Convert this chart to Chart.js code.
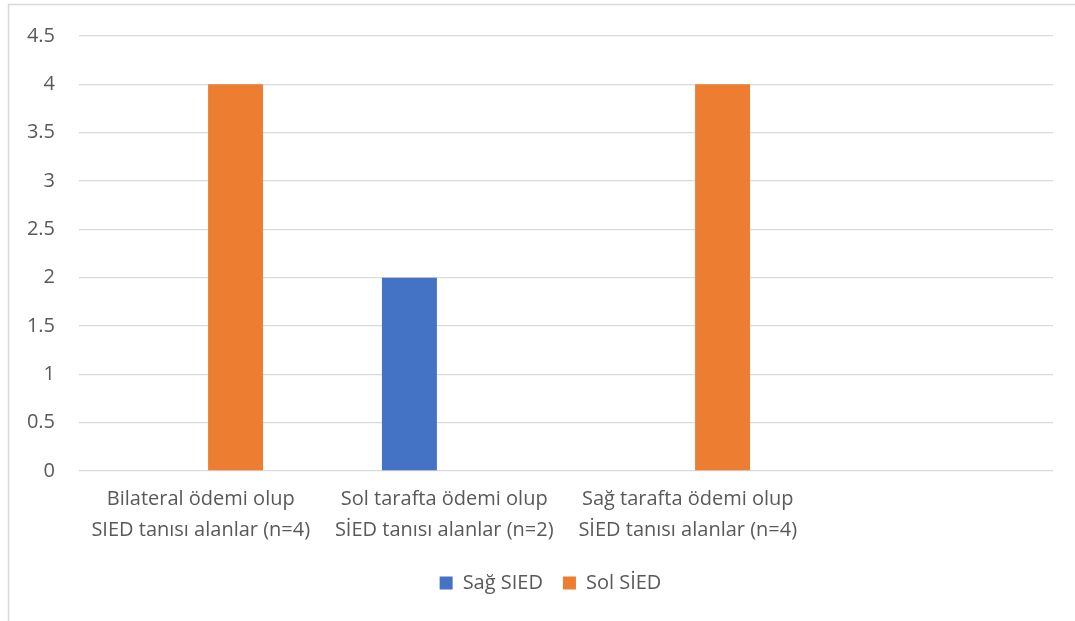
<!DOCTYPE html>
<html>
<head>
<meta charset="utf-8">
<script src="https://cdn.jsdelivr.net/npm/chart.js@4/dist/chart.umd.min.js"></script>
<style>
  html, body { margin: 0; padding: 0; background: #ffffff; }
  #wrap { position: relative; width: 1075px; height: 621px; }
</style>
</head>
<body>
<div id="wrap"><canvas id="chart" width="1075" height="621"></canvas></div>
<script>
// Categories (the fourth slot is intentionally blank)
const categories = [
  ["Bilateral ödemi olup", "SIED tanısı alanlar (n=4)"],
  ["Sol tarafta ödemi olup", "SİED tanısı alanlar (n=2)"],
  ["Sağ tarafta ödemi olup", "SİED tanısı alanlar (n=4)"],
  ""
];
const seriesNames = ["Sağ SIED", "Sol SİED"];
const sagSied = [0, 2, 0, null];
const solSied = [4, 0, 4, null];
const yTicks = [0, 0.5, 1, 1.5, 2, 2.5, 3, 3.5, 4, 4.5];

const textColor = "#595959";
const gridColor = "#d9d9d9";
const fontFamily = "'Open Sans', Lato, sans-serif";

// Thin frame along the top and left edges of the chart box
const framePlugin = {
  id: "frame",
  beforeDraw(chart) {
    const ctx = chart.ctx;
    ctx.save();
    ctx.strokeStyle = gridColor;
    ctx.lineWidth = 1.5;
    ctx.beginPath();
    ctx.moveTo(8.5, 621);
    ctx.lineTo(8.5, 4.5);
    ctx.lineTo(1075, 4.5);
    ctx.stroke();
    ctx.restore();
  }
};

// Centre the legend on the whole box rather than on the padded area
const legendShift = {
  id: "legendShift",
  afterLayout(chart) {
    const lg = chart.legend;
    if (lg) { lg.left += 24; lg.right += 24; }
  }
};

new Chart(document.getElementById("chart"), {
  type: "bar",
  data: {
    labels: categories,
    datasets: [
      { label: seriesNames[0], data: sagSied, backgroundColor: "#4472C4", borderWidth: 0 },
      { label: seriesNames[1], data: solSied, backgroundColor: "#ED7D31", borderWidth: 0 }
    ]
  },
  options: {
    responsive: false,
    animation: false,
    devicePixelRatio: 1,
    categoryPercentage: 0.572,
    barPercentage: 0.789,
    layout: { padding: { top: 31, right: 22, bottom: 18, left: 0 } },
    plugins: {
      legend: {
        position: "bottom",
        labels: {
          boxWidth: 13,
          boxHeight: 13,
          padding: 20,
          color: textColor,
          font: { family: fontFamily, size: 20 }
        }
      },
      tooltip: { enabled: false }
    },
    scales: {
      x: {
        grid: { display: false, drawTicks: false },
        border: { display: false },
        ticks: {
          color: textColor,
          padding: 13,
          maxRotation: 0,
          autoSkip: false,
          font: { family: fontFamily, size: 20, lineHeight: 1.55 }
        },
        afterFit(scale) { scale.height = 82; }
      },
      y: {
        min: 0,
        max: 4.5,
        grid: { color: gridColor, lineWidth: 1.3, drawTicks: false },
        border: { display: false },
        afterBuildTicks(scale) { scale.ticks = yTicks.map(v => ({ value: v })); },
        ticks: {
          color: textColor,
          padding: 24,
          font: { family: fontFamily, size: 20 },
          callback: (v) => String(v)
        },
        afterFit(scale) { scale.width = 79; }
      }
    }
  },
  plugins: [framePlugin, legendShift]
});
</script>
</body>
</html>
